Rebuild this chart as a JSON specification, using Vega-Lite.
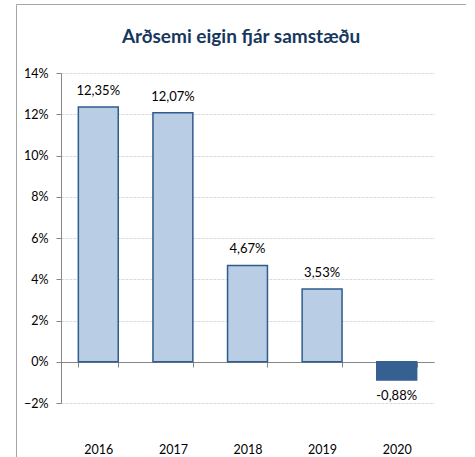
{
  "$schema": "https://vega.github.io/schema/vega-lite/v6.json",
  "width": 450,
  "height": 456,
  "autosize": {"type": "none"},
  "padding": {"left": 16, "top": 4, "right": 0, "bottom": 0},
  "background": "white",
  "config": {
    "font": "Lato",
    "view": {"stroke": "#a6a6a6", "strokeWidth": 1},
    "locale": {"number": {"decimal": ",", "thousands": ".", "grouping": [3], "currency": ["", " kr."]}}
  },
  "title": {
    "text": "Arðsemi eigin fjár samstæðu",
    "font": "Lato",
    "fontSize": 19,
    "fontWeight": "bold",
    "color": "#17375e",
    "anchor": "middle",
    "offset": -62,
    "baseline": "bottom"
  },
  "data": {
    "values": [
      {"year": "2016", "roe": 0.1235, "label": "12,35%"},
      {"year": "2017", "roe": 0.1207, "label": "12,07%"},
      {"year": "2018", "roe": 0.0467, "label": "4,67%"},
      {"year": "2019", "roe": 0.0353, "label": "3,53%"},
      {"year": "2020", "roe": -0.0088, "label": "-0,88%"}
    ]
  },
  "encoding": {
    "x": {
      "field": "year",
      "type": "nominal",
      "sort": null,
      "scale": {"range": [45, 418], "paddingInner": 0.465, "paddingOuter": 0.2325},
      "axis": {
        "title": null,
        "labelAngle": 0,
        "offset": -98,
        "tickBand": "extent",
        "tickSize": 5,
        "tickColor": "#868686",
        "domainColor": "#868686",
        "labelPadding": 76,
        "labelFontSize": 12.5,
        "labelColor": "#000000",
        "labelFont": "Lato",
        "grid": false
      }
    },
    "y": {
      "field": "roe",
      "type": "quantitative",
      "scale": {"domain": [-0.02, 0.14], "range": [399, 69], "nice": false, "zero": false},
      "axis": {
        "title": null,
        "format": ".0%",
        "values": [-0.02, 0, 0.02, 0.04, 0.06, 0.08, 0.1, 0.12, 0.14],
        "offset": -45,
        "tickSize": 5,
        "tickColor": "#868686",
        "domainColor": "#868686",
        "labelPadding": 8,
        "labelFontSize": 12.5,
        "labelColor": "#000000",
        "labelFont": "Lato",
        "grid": true,
        "gridColor": "#dadada",
        "gridDash": [3, 1],
        "gridWidth": 1
      }
    }
  },
  "layer": [
    {
      "mark": {"type": "bar", "strokeWidth": 1.5},
      "encoding": {
        "y2": {"datum": 0},
        "color": {
          "condition": {"test": "datum.roe < 0", "value": "#376092"},
          "value": "#b9cde5"
        },
        "stroke": {
          "condition": {"test": "datum.roe < 0", "value": "#376092"},
          "value": "#2f5b8f"
        }
      }
    },
    {
      "transform": [{"filter": "datum.roe >= 0"}],
      "mark": {"type": "text", "fontSize": 13, "font": "Lato", "color": "#000000", "baseline": "bottom", "dy": -9},
      "encoding": {"text": {"field": "label"}}
    },
    {
      "transform": [{"filter": "datum.roe < 0"}],
      "mark": {"type": "text", "fontSize": 13, "font": "Lato", "color": "#000000", "baseline": "top", "dy": 10},
      "encoding": {"text": {"field": "label"}}
    }
  ]
}
